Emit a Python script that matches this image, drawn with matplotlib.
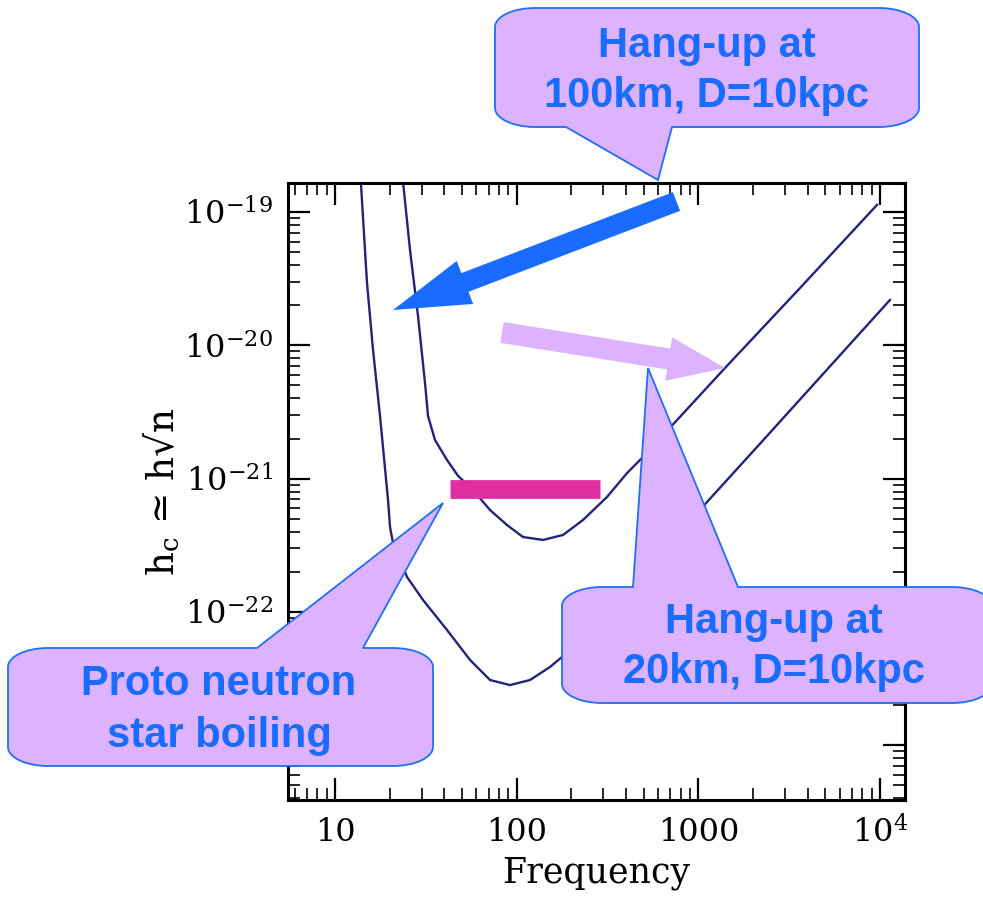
import numpy as np
import matplotlib.pyplot as plt
from matplotlib.path import Path
from matplotlib.patches import PathPatch, FancyArrow
from matplotlib.transforms import Affine2D
from matplotlib.ticker import LogLocator, NullFormatter

W, H = 983, 899

# noise curve for hang-up at 100km
freq_100 = [23.5, 25.87, 28.63, 31.29, 32.50, 35.51, 41.36, 47.54, 57.48, 71.32,
            88.48, 108.4, 139.6, 179.9, 231.8, 314.2, 404.9, 489.7, 763.1, 1402,
            3628, 9627]
hc_100 = [1.86e-19, 5.19e-20, 1.66e-20, 5.22e-21, 2.95e-21, 1.95e-21, 1.38e-21,
          1.05e-21, 8.22e-22, 5.82e-22, 4.49e-22, 3.65e-22, 3.47e-22, 3.78e-22,
          4.90e-22, 7.29e-22, 1.10e-21, 1.43e-21, 2.75e-21, 6.76e-21, 2.69e-20,
          1.13e-19]

# hang-up at 20km
freq_20 = [13.81, 15.00, 16.19, 17.69, 19.58, 20.08, 20.86, 24.91, 30.51, 41.36,
           55.36, 71.32, 91.90, 118.4, 152.6, 177.6, 223.2, 287.5, 477.5, 698.2,
           1116, 2388, 5510, 11350]
hc_20 = [1.86e-19, 2.93e-20, 9.23e-21, 2.95e-21, 6.92e-22, 4.34e-22, 3.29e-22,
         1.83e-22, 1.23e-22, 7.33e-23, 4.37e-23, 3.09e-23, 2.83e-23, 3.09e-23,
         3.87e-23, 4.60e-23, 6.06e-23, 8.13e-23, 1.74e-22, 3.13e-22, 6.68e-22,
         2.09e-21, 7.37e-21, 2.19e-20]

# proto neutron star boiling band
boil_freq = [42.9, 286]
boil_hc = [8.3e-22, 8.3e-22]

xticks = [10, 100, 1000, 1e4]
xticklabels = ['10', '100', '1000', r'$10^4$']
yticks = [1e-19, 1e-20, 1e-21, 1e-22, 1e-23]
yticklabels = [r'$10^{-19}$', r'$10^{-20}$', r'$10^{-21}$', r'$10^{-22}$', r'$10^{-23}$']

plt.rcParams['mathtext.fontset'] = 'dejavuserif'
plt.rcParams['font.family'] = ['DejaVu Serif', 'DejaVu Sans']

fig = plt.figure(figsize=(W / 100, H / 100), dpi=100)
ax = fig.add_axes([288 / W, 1 - 800 / H, 617 / W, 617 / H])

navy = '#23237a'
ax.plot(freq_100, hc_100, color=navy, lw=1.7, solid_joinstyle='round')
ax.plot(freq_20, hc_20, color=navy, lw=1.7, solid_joinstyle='round')
ax.plot(boil_freq, boil_hc, color='#df2ea0', lw=13.5, solid_capstyle='butt')

ax.set_xscale('log')
ax.set_yscale('log')
ax.set_xlim(5.51, 13730)
ax.set_ylim(3.89e-24, 1.65e-19)

ax.set_xticks(xticks)
ax.set_xticklabels(xticklabels)
ax.set_yticks(yticks)
ax.set_yticklabels(yticklabels)
ax.xaxis.set_minor_locator(LogLocator(base=10, subs=np.arange(2, 10)))
ax.yaxis.set_minor_locator(LogLocator(base=10, subs=np.arange(2, 10)))
ax.xaxis.set_minor_formatter(NullFormatter())
ax.yaxis.set_minor_formatter(NullFormatter())

ax.tick_params(which='both', direction='in', top=True, right=True, labelsize=23, color='black')
ax.tick_params(which='major', length=16, width=1.6)
ax.tick_params(which='minor', length=8.5, width=1.2)
ax.tick_params(axis='x', pad=12)
ax.tick_params(axis='y', pad=11)
for s in ax.spines.values():
    s.set_linewidth(2.2)

ax.set_xlabel('Frequency', fontsize=25, va='baseline')
ax.xaxis.set_label_coords(0.5, -82 / 617)
ax.set_ylabel('h$_\\mathrm{c}$ ≃ h√n', fontsize=27)
ax.yaxis.set_label_coords(-0.172, 0.5)

# overlay: callouts and arrows in pixel coordinates (y down)
px = Affine2D().scale(1 / W, -1 / H).translate(0, 1) + fig.transFigure

lav = '#ddb2ff'
edge = '#1f6ff5'
blue = '#1a6bff'


def callout(x0, y0, x1, y1, tail, side, rx=40, ry=19):
    bl, tx, ty, br = tail
    k = 0.5523
    v = [(x0 + rx, y0)]
    c = [Path.MOVETO]
    if side == 'top':
        v += [(bl, y0), (tx, ty), (br, y0)]
        c += [Path.LINETO] * 3
    v += [(x1 - rx, y0), (x1 - rx + rx * k, y0), (x1, y0 + ry - ry * k), (x1, y0 + ry)]
    c += [Path.LINETO, Path.CURVE4, Path.CURVE4, Path.CURVE4]
    v += [(x1, y1 - ry), (x1, y1 - ry + ry * k), (x1 - rx + rx * k, y1), (x1 - rx, y1)]
    c += [Path.LINETO, Path.CURVE4, Path.CURVE4, Path.CURVE4]
    if side == 'bottom':
        v += [(br, y1), (tx, ty), (bl, y1)]
        c += [Path.LINETO] * 3
    v += [(x0 + rx, y1), (x0 + rx - rx * k, y1), (x0, y1 - ry + ry * k), (x0, y1 - ry)]
    c += [Path.LINETO, Path.CURVE4, Path.CURVE4, Path.CURVE4]
    v += [(x0, y0 + ry), (x0, y0 + ry - ry * k), (x0 + rx - rx * k, y0), (x0 + rx, y0)]
    c += [Path.LINETO, Path.CURVE4, Path.CURVE4, Path.CURVE4]
    v += [(x0 + rx, y0)]
    c += [Path.CLOSEPOLY]
    fig.add_artist(PathPatch(Path(v, c), facecolor=lav, edgecolor=edge, lw=1.3,
                             transform=px, zorder=5))


def label(x, y, s):
    fig.text(x, y, s, transform=px, ha='center', va='baseline', fontsize=30,
             fontweight='bold', color=blue, family=['Liberation Sans', 'DejaVu Sans'],
             zorder=6)


# arrows
fig.add_artist(FancyArrow(676.5, 201.5, -283.5, 108.5, width=20, head_width=46,
                          head_length=77, length_includes_head=True, transform=px,
                          color=blue, lw=0, zorder=4))
fig.add_artist(FancyArrow(502, 332.5, 223, 35.5, width=21, head_width=44,
                          head_length=57, length_includes_head=True, transform=px,
                          color=lav, lw=0, zorder=4))

callout(495, 8, 919, 127, (566, 658, 180, 672), 'bottom')
label(707, 57, 'Hang-up at')
label(707, 107, '100km, D=10kpc')

callout(562, 587, 992, 703, (633, 648, 368, 738), 'top')
label(774, 633, 'Hang-up at')
label(774, 683, '20km, D=10kpc')

callout(8, 648, 433, 766, (257, 443, 503, 363), 'top')
label(219, 695, 'Proto neutron')
label(219, 747, 'star boiling')

fig.savefig('out.png', dpi=100)
